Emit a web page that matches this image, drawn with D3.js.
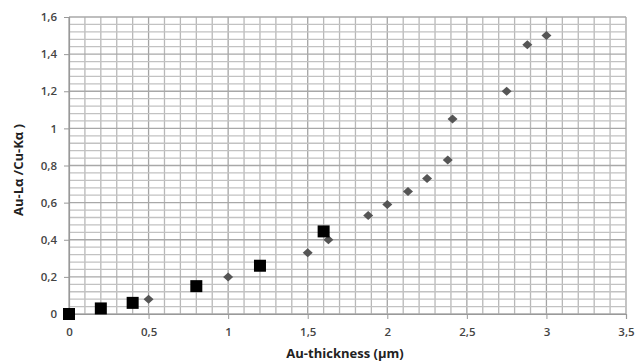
<!DOCTYPE html>
<html>
<head>
<meta charset="utf-8">
<script src="https://cdn.jsdelivr.net/npm/d3@7"></script>
<style>
  body { margin: 0; background: #fff; }
  svg { display: block; font-family: "Open Sans", "DejaVu Sans", sans-serif; }
</style>
</head>
<body>
<svg id="chart" width="635" height="363"></svg>
<script>
// Au-La / Cu-Ka intensity ratio vs gold thickness

// Square series (black)
const squareX = [0, 0.2, 0.4, 0.8, 1.2, 1.6];
const squareY = [0, 0.03, 0.06, 0.15, 0.26, 0.445];

// Diamond series (grey)
const diamondX = [0.5, 1.0, 1.5, 1.63, 1.88, 2.0, 2.13, 2.25, 2.38, 2.41, 2.75, 2.88, 3.0];
const diamondY = [0.08, 0.2, 0.33, 0.4, 0.53, 0.59, 0.66, 0.73, 0.83, 1.05, 1.2, 1.45, 1.5];

const xTicks = [0, 0.5, 1, 1.5, 2, 2.5, 3, 3.5];
const yTicks = [0, 0.2, 0.4, 0.6, 0.8, 1, 1.2, 1.4, 1.6];

const width = 635, height = 363;
const margin = { top: 17, right: 9, bottom: 49, left: 69 };

const svg = d3.select("#chart");

const x = d3.scaleLinear()
  .domain([0, 3.5])
  .range([margin.left, width - margin.right]);

const y = d3.scaleLinear()
  .domain([0, 1.6])
  .range([height - margin.bottom, margin.top]);

const fmt = d => String(d).replace(".", ",");

// Grid: vertical every 0.1, horizontal every 0.04
const grid = svg.append("g");
const vLines = d3.range(0, 36).map(i => i / 10);
const hLines = d3.range(0, 41).map(i => i * 0.04);

grid.selectAll("line.v")
  .data(vLines)
  .join("line")
  .attr("x1", d => x(d)).attr("x2", d => x(d))
  .attr("y1", y(0)).attr("y2", y(1.6))
  .attr("stroke", (d, i) => i % 5 === 0 ? "#a4a4a4" : "#b8b8b8")
  .attr("stroke-width", 1.3);

grid.selectAll("line.h")
  .data(hLines)
  .join("line")
  .attr("y1", d => y(d)).attr("y2", d => y(d))
  .attr("x1", x(0)).attr("x2", x(3.5))
  .attr("stroke", (d, i) => i % 5 === 0 ? "#a8a8a8" : "#c2c2c2")
  .attr("stroke-width", 1.3);

// Axes
const xAxis = svg.append("g")
  .attr("transform", `translate(0,${y(0)})`)
  .call(d3.axisBottom(x).tickValues(xTicks).tickFormat(fmt).tickSize(5).tickPadding(9));

const yAxis = svg.append("g")
  .attr("transform", `translate(${x(0)},0)`)
  .call(d3.axisLeft(y).tickValues(yTicks).tickFormat(fmt).tickSize(5).tickPadding(7));

[xAxis, yAxis].forEach(a => {
  a.select(".domain").attr("stroke", "#999").attr("stroke-width", 1.2);
  a.selectAll(".tick line").attr("stroke", "#999");
  a.selectAll(".tick text")
    .attr("fill", "#444")
    .style("font-size", "11.5px")
    .style("font-weight", "600")
    .style("font-family", "'Open Sans', sans-serif");
});

// Diamonds
svg.append("g")
  .selectAll("path")
  .data(diamondX.map((d, i) => [d, diamondY[i]]))
  .join("path")
  .attr("transform", d => `translate(${x(d[0])},${y(d[1])})`)
  .attr("d", "M0,-4.5L5,0L0,4.5L-5,0Z")
  .attr("fill", "#555");

// Squares
svg.append("g")
  .selectAll("rect")
  .data(squareX.map((d, i) => [d, squareY[i]]))
  .join("rect")
  .attr("x", d => x(d[0]) - 6)
  .attr("y", d => y(d[1]) - 6)
  .attr("width", 12)
  .attr("height", 12)
  .attr("fill", "#000");

// X axis label
svg.append("text")
  .attr("x", 345)
  .attr("y", 358)
  .attr("text-anchor", "middle")
  .style("font-size", "13px")
  .style("font-weight", "bold")
  .attr("fill", "#222")
  .text("Au-thickness (µm)");

// Y axis label
svg.append("text")
  .attr("transform", "translate(23,170) rotate(-90)")
  .attr("text-anchor", "middle")
  .style("font-size", "13px")
  .style("font-weight", "bold")
  .attr("fill", "#222")
  .text("Au-Lα /Cu-Kα )");
</script>
</body>
</html>
